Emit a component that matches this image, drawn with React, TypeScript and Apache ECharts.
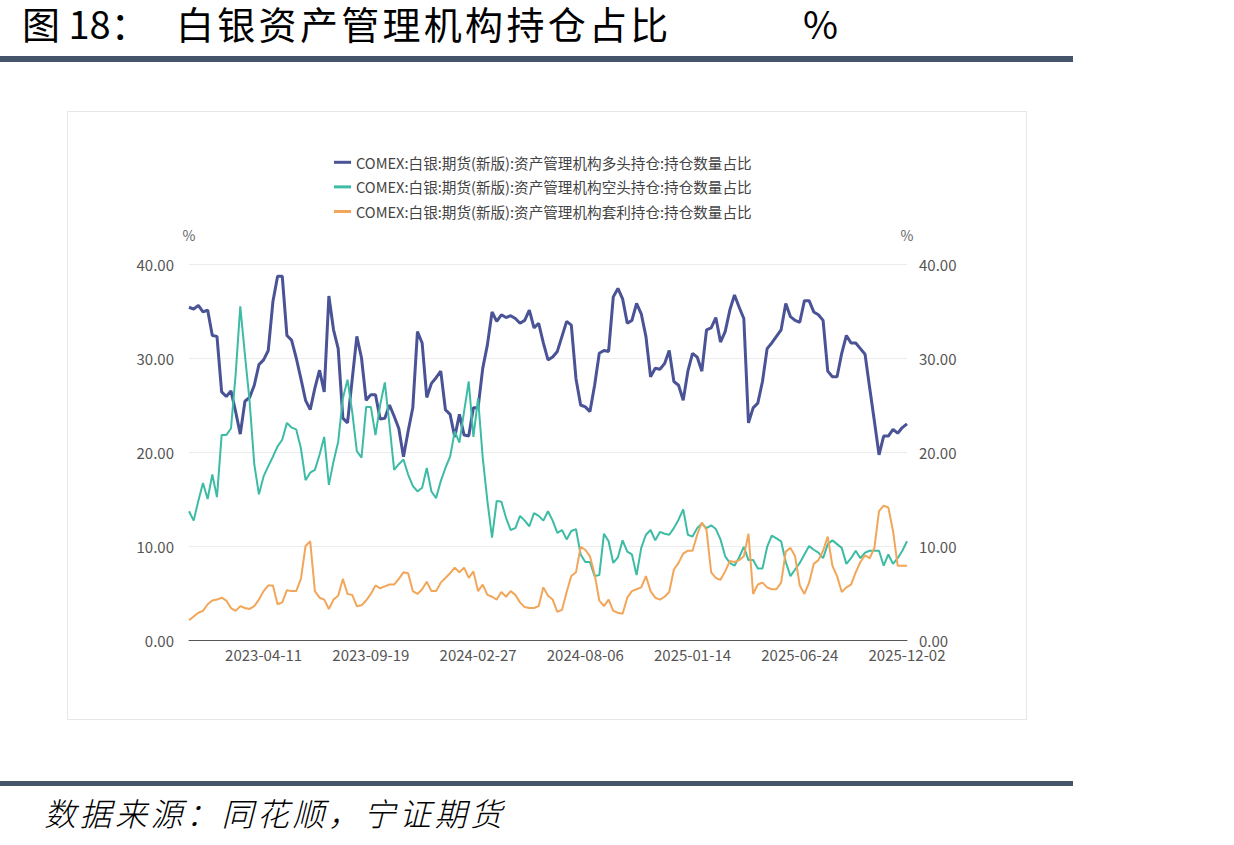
import React, { useEffect, useRef } from "react";
import * as echarts from "echarts";

// Weekly reporting dates (Tuesdays), first week 2022-12-20
const FIRST_DATE = "2022-12-20";
const WEEK_COUNT = 155;

const SERIES_NAMES = [
  "COMEX:白银:期货(新版):资产管理机构多头持仓:持仓数量占比",
  "COMEX:白银:期货(新版):资产管理机构空头持仓:持仓数量占比",
  "COMEX:白银:期货(新版):资产管理机构套利持仓:持仓数量占比",
];

const longShare = [
  35.4, 35.2, 35.6, 34.9, 35.1, 32.4, 32.3, 26.4, 25.9, 26.5,
  24.3, 21.9, 25.4, 25.8, 27.1, 29.3, 29.8, 30.8, 36.0, 38.7,
  38.7, 32.4, 31.9, 30.0, 27.8, 25.5, 24.5, 26.8, 28.7, 26.4,
  36.6, 33.0, 31.0, 23.6, 23.1, 27.7, 32.3, 30.0, 25.5, 26.1,
  26.1, 23.5, 23.6, 25.0, 23.8, 22.5, 19.5, 22.2, 24.7, 32.8,
  31.6, 25.8, 27.3, 27.9, 28.6, 24.5, 24.0, 21.6, 24.0, 21.8,
  21.7, 24.7, 24.7, 28.9, 31.4, 34.9, 33.9, 34.6, 34.3, 34.5,
  34.2, 33.7, 34.0, 35.1, 33.2, 33.7, 31.6, 29.8, 30.1, 30.7,
  32.3, 33.9, 33.5, 27.8, 25.0, 24.8, 24.3, 27.1, 30.5, 30.8,
  30.7, 36.5, 37.4, 36.3, 33.7, 34.0, 35.8, 34.7, 32.3, 28.0,
  28.9, 28.8, 29.4, 30.8, 27.5, 27.1, 25.5, 28.6, 30.5, 30.1,
  28.6, 33.0, 33.2, 34.3, 31.7, 32.8, 35.1, 36.7, 35.4, 34.2,
  23.1, 24.7, 25.2, 27.5, 31.0, 31.6, 32.3, 33.0, 35.8, 34.4,
  34.0, 33.8, 36.1, 36.1, 34.9, 34.6, 34.0, 28.6, 28.0, 28.0,
  30.5, 32.4, 31.6, 31.6, 31.0, 30.4, 26.8, 23.3, 19.7, 21.7,
  21.7, 22.4, 22.0, 22.6, 23.0,
];

const shortShare = [
  13.7, 12.7, 14.8, 16.7, 15.0, 17.6, 15.2, 21.8, 21.8, 22.5,
  28.2, 35.5, 30.3, 25.4, 18.7, 15.5, 17.4, 18.5, 19.5, 20.6,
  21.3, 23.1, 22.6, 22.4, 20.4, 17.0, 17.8, 18.1, 19.7, 21.6,
  16.5, 19.0, 21.1, 25.7, 27.7, 24.3, 20.1, 19.4, 24.8, 24.8,
  21.8, 25.0, 27.4, 22.9, 18.1, 18.7, 19.2, 17.6, 16.4, 15.8,
  16.2, 18.3, 15.8, 15.1, 16.9, 18.3, 19.5, 22.2, 21.0, 24.3,
  27.5, 21.6, 25.7, 19.4, 14.8, 10.9, 14.8, 14.7, 13.0, 11.7,
  11.9, 13.2, 12.7, 12.1, 13.5, 13.2, 12.7, 13.7, 12.7, 11.4,
  11.7, 10.7, 11.6, 11.8, 9.1, 8.3, 8.3, 6.8, 6.9, 11.3,
  10.5, 8.2, 8.8, 10.6, 9.4, 9.1, 6.9, 9.8, 11.2, 11.7,
  10.6, 11.5, 11.3, 11.2, 11.9, 12.8, 13.9, 11.2, 11.0, 11.9,
  12.4, 11.9, 12.2, 11.8, 10.7, 8.9, 8.2, 7.9, 8.8, 9.9,
  8.5, 8.5, 7.6, 7.6, 9.9, 11.1, 10.8, 10.5, 8.3, 6.8,
  7.5, 8.2, 9.1, 10.0, 9.6, 9.3, 8.7, 10.2, 10.6, 10.2,
  9.8, 8.1, 8.7, 9.5, 8.7, 9.3, 9.5, 9.5, 9.5, 7.9,
  9.1, 8.1, 8.7, 9.5, 10.5,
];

const spreadShare = [
  2.1, 2.5, 2.9, 3.1, 3.8, 4.2, 4.3, 4.5, 4.2, 3.4,
  3.1, 3.6, 3.4, 3.3, 3.6, 4.3, 5.2, 5.8, 5.8, 3.8,
  4.0, 5.3, 5.2, 5.2, 6.5, 10.0, 10.5, 5.2, 4.5, 4.3,
  3.3, 4.3, 4.7, 6.5, 4.9, 4.8, 3.6, 3.7, 4.2, 4.9,
  5.8, 5.5, 5.7, 5.9, 5.9, 6.5, 7.2, 7.1, 5.2, 4.9,
  5.4, 6.2, 5.2, 5.2, 6.1, 6.6, 7.1, 7.7, 7.2, 7.7,
  6.6, 7.3, 5.2, 5.9, 4.8, 4.6, 4.3, 5.1, 4.6, 5.2,
  4.8, 4.0, 3.5, 3.4, 3.4, 3.6, 5.6, 4.7, 4.3, 3.0,
  3.2, 5.1, 6.8, 7.2, 9.9, 9.6, 8.9, 7.0, 4.2, 3.6,
  4.3, 3.1, 2.9, 2.8, 4.5, 5.2, 5.4, 5.6, 6.8, 5.2,
  4.5, 4.3, 4.6, 5.1, 7.5, 8.2, 9.2, 9.5, 9.5, 11.2,
  12.5, 11.7, 7.2, 6.6, 6.4, 7.3, 8.4, 8.3, 8.5, 8.9,
  11.3, 4.9, 5.9, 6.1, 5.6, 5.4, 5.4, 6.1, 9.4, 9.8,
  8.9, 5.8, 4.9, 6.1, 8.1, 8.5, 9.5, 11.0, 7.9, 6.8,
  5.1, 5.6, 5.9, 7.2, 8.3, 9.0, 8.7, 9.8, 13.7, 14.3,
  14.1, 11.6, 7.9, 7.9, 7.9,
];

const SERIES_COLORS = ["#4a5396", "#3cbba5", "#f2a65a"];
const Y_TICKS = { min: 0, max: 40, interval: 10 };
const LABEL_STEP = 23;

function weeklyDates(start: string, count: number): string[] {
  const out: string[] = [];
  const base = new Date(start + "T00:00:00Z").getTime();
  for (let i = 0; i < count; i++) {
    const d = new Date(base + i * 7 * 86400000);
    out.push(d.toISOString().slice(0, 10));
  }
  return out;
}

const dates = weeklyDates(FIRST_DATE, WEEK_COUNT);

const FONT = '"Microsoft YaHei", "Noto Sans CJK SC", "Noto Sans", sans-serif';

function Chart() {
  const ref = useRef<HTMLDivElement>(null);
  useEffect(() => {
    if (!ref.current) return;
    const chart = echarts.init(ref.current, undefined, { renderer: "svg" });
    const last = dates.length - 1;
    const yAxisBase = {
      type: "value" as const,
      min: Y_TICKS.min,
      max: Y_TICKS.max,
      interval: Y_TICKS.interval,
      name: "%",
      nameLocation: "end" as const,
      nameGap: 22,
      nameTextStyle: { color: "#666", fontSize: 14, fontFamily: FONT },
      axisLine: { show: false },
      axisTick: { show: false },
      axisLabel: {
        color: "#555",
        fontSize: 15,
        fontFamily: FONT,
        formatter: (v: number) => v.toFixed(2),
      },
    };
    chart.setOption({
      animation: false,
      backgroundColor: "#fff",
      color: SERIES_COLORS,
      grid: { left: 121, right: 119, top: 152, bottom: 79 },
      legend: {
        orient: "vertical",
        left: 261,
        top: 38,
        icon: "rect",
        itemWidth: 17,
        itemHeight: 3,
        itemGap: 10,
        textStyle: { color: "#444", fontSize: 14.6, fontFamily: FONT, lineHeight: 14 },
        data: SERIES_NAMES,
      },
      xAxis: {
        type: "category",
        data: dates,
        boundaryGap: false,
        axisLine: { lineStyle: { color: "#555", width: 1 } },
        axisTick: { show: false },
        axisLabel: {
          color: "#555",
          fontSize: 15,
          fontFamily: FONT,
          margin: 7,
          interval: (idx: number) => (last - idx) % LABEL_STEP === 0,
        },
      },
      yAxis: [
        {
          ...yAxisBase,
          position: "left",
          axisLabel: { ...yAxisBase.axisLabel, margin: 15 },
          splitLine: { lineStyle: { color: "#ececec" } },
        },
        {
          ...yAxisBase,
          position: "right",
          axisLabel: { ...yAxisBase.axisLabel, margin: 12 },
          splitLine: { show: false },
        },
      ],
      series: [
        { name: SERIES_NAMES[0], data: longShare, lineWidth: 3 },
        { name: SERIES_NAMES[1], data: shortShare, lineWidth: 2 },
        { name: SERIES_NAMES[2], data: spreadShare, lineWidth: 2 },
      ].map((s) => ({
        name: s.name,
        type: "line",
        data: s.data,
        showSymbol: false,
        symbol: "none",
        lineStyle: { width: s.lineWidth },
        yAxisIndex: 0,
      })),
    });
    return () => chart.dispose();
  }, []);
  return (
    <div
      ref={ref}
      style={{
        position: "absolute",
        left: 67,
        top: 111,
        width: 960,
        height: 609,
        boxSizing: "border-box",
        border: "1px solid #e6e6e6",
      }}
    />
  );
}

export default function App() {
  const titleFont = '"Noto Sans CJK SC", sans-serif';
  const titleStyle = {
    position: "absolute" as const,
    top: 2,
    height: 42,
    lineHeight: "42px",
    fontFamily: titleFont,
    fontSize: 38,
    fontWeight: 400,
    color: "#000",
    whiteSpace: "nowrap" as const,
  };
  return (
    <div
      style={{
        position: "absolute",
        left: 0,
        top: 0,
        width: 1234,
        height: 845,
        background: "#fff",
        overflow: "hidden",
      }}
    >
      <div style={{ ...titleStyle, left: 22 }}>图 18：</div>
      <div style={{ ...titleStyle, left: 176, letterSpacing: 3.3 }}>白银资产管理机构持仓占比</div>
      <div style={{ ...titleStyle, left: 803 }}>%</div>
      <div style={{ position: "absolute", left: 0, top: 56, width: 1073, height: 6, background: "#46546b" }} />
      <Chart />
      <div style={{ position: "absolute", left: 0, top: 781, width: 1073, height: 5, background: "#46546b" }} />
      <div
        style={{
          position: "absolute",
          left: 44,
          top: 792,
          height: 40,
          lineHeight: "40px",
          fontFamily: titleFont,
          fontSize: 32,
          fontStyle: "italic",
          fontWeight: 300,
          color: "#000",
          letterSpacing: 3.5,
          whiteSpace: "nowrap",
        }}
      >
        数据来源：同花顺，宁证期货
      </div>
    </div>
  );
}
